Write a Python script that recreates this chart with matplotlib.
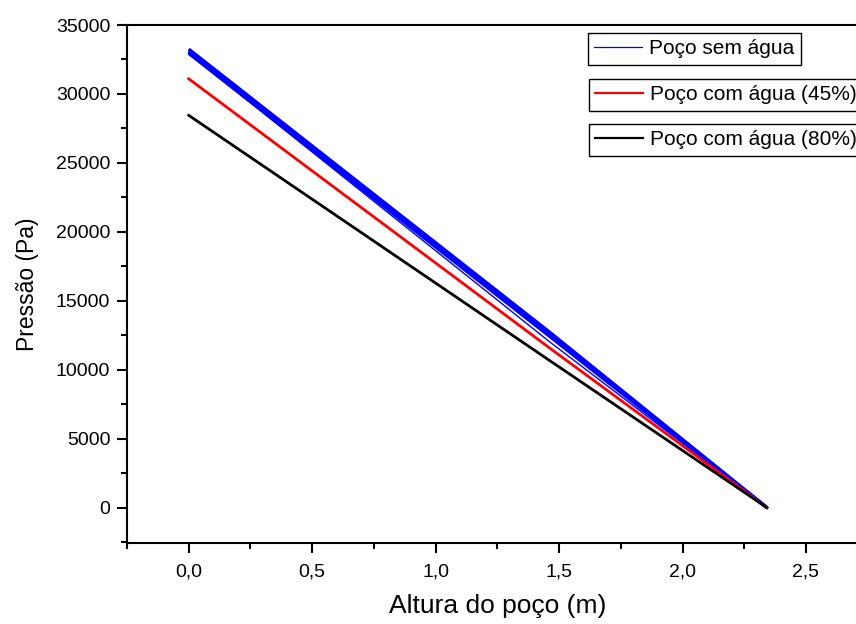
import matplotlib
matplotlib.use('Agg')
import matplotlib.pyplot as plt
from matplotlib.ticker import MultipleLocator, FuncFormatter
from matplotlib.lines import Line2D

plt.rcParams['font.family'] = ['Liberation Sans', 'DejaVu Sans']

# altura do poço (m)
altura = [0.0, 1.46, 2.342]

# poço sem água: feixe de curvas azuis (grossas) + uma curva fina
sem_agua_a = [33250, 12750, 0]
sem_agua_b = [33100, 12600, 0]
sem_agua_c = [32950, 12450, 0]
sem_agua_fina = [32950, 12050, 0]

# poço com água
com_agua_45 = [31100, 11600, 0]
com_agua_80 = [28450, 10690, 0]

legend_labels = ['Poço sem água', 'Poço com água (45%)', 'Poço com água (80%)']

fig = plt.figure(figsize=(8.56, 6.24), dpi=100)
ax = fig.add_axes([127 / 856, 1 - 542.7 / 624, (867.7 - 127) / 856, (542.7 - 25) / 624])

for serie in [sem_agua_a, sem_agua_b, sem_agua_c]:
    ax.plot(altura, serie, color='#0000ff', lw=2.4, solid_capstyle='butt')
ax.plot(altura, sem_agua_fina, color='#0000ff', lw=1.0)
ax.plot(altura, com_agua_45, color='#ff0000', lw=2.0)
ax.plot(altura, com_agua_80, color='black', lw=2.0)

ax.set_xlim(-0.25, 2.75)
ax.set_ylim(-2540, 35000)

ax.xaxis.set_major_locator(MultipleLocator(0.5))
ax.xaxis.set_minor_locator(MultipleLocator(0.25))
ax.yaxis.set_major_locator(MultipleLocator(5000))
ax.yaxis.set_minor_locator(MultipleLocator(2500))
ax.xaxis.set_major_formatter(FuncFormatter(lambda v, p: ('%.1f' % v).replace('.', ',')))
ax.yaxis.set_major_formatter(FuncFormatter(lambda v, p: '%d' % v))

ax.tick_params(which='both', direction='out', width=1.5, top=False, right=False,
               labelsize=14, colors='black')
ax.tick_params(which='major', length=7, pad=5)
ax.tick_params(which='minor', length=4)
ax.tick_params(axis='x', which='major', pad=8)
for sp in ax.spines.values():
    sp.set_linewidth(1.5)

ax.set_xlabel('Altura do poço (m)', fontsize=19, labelpad=10)
ax.set_ylabel('Pressão (Pa)', fontsize=16.5, labelpad=12)

# three separate legend boxes, as in the original
handles = [Line2D([], [], color='#0000ff', lw=0.9),
           Line2D([], [], color='#ff0000', lw=1.6),
           Line2D([], [], color='black', lw=1.6)]
anchors = [(588 / 856, 1 - 33 / 624), (589 / 856, 1 - 79 / 624), (589 / 856, 1 - 124 / 624)]
legs = []
for h, lab, anc in zip(handles, legend_labels, anchors):
    leg = ax.legend(handles=[h], labels=[lab], loc='upper left', bbox_to_anchor=anc,
                    bbox_transform=fig.transFigure, fontsize=15, frameon=True,
                    fancybox=False, edgecolor='black', framealpha=1,
                    borderpad=0.3, borderaxespad=0, handlelength=2.3,
                    handletextpad=0.35)
    leg.get_frame().set_linewidth(1.0)
    legs.append(leg)
for leg in legs[:-1]:
    ax.add_artist(leg)

fig.savefig('out.png', dpi=100)
